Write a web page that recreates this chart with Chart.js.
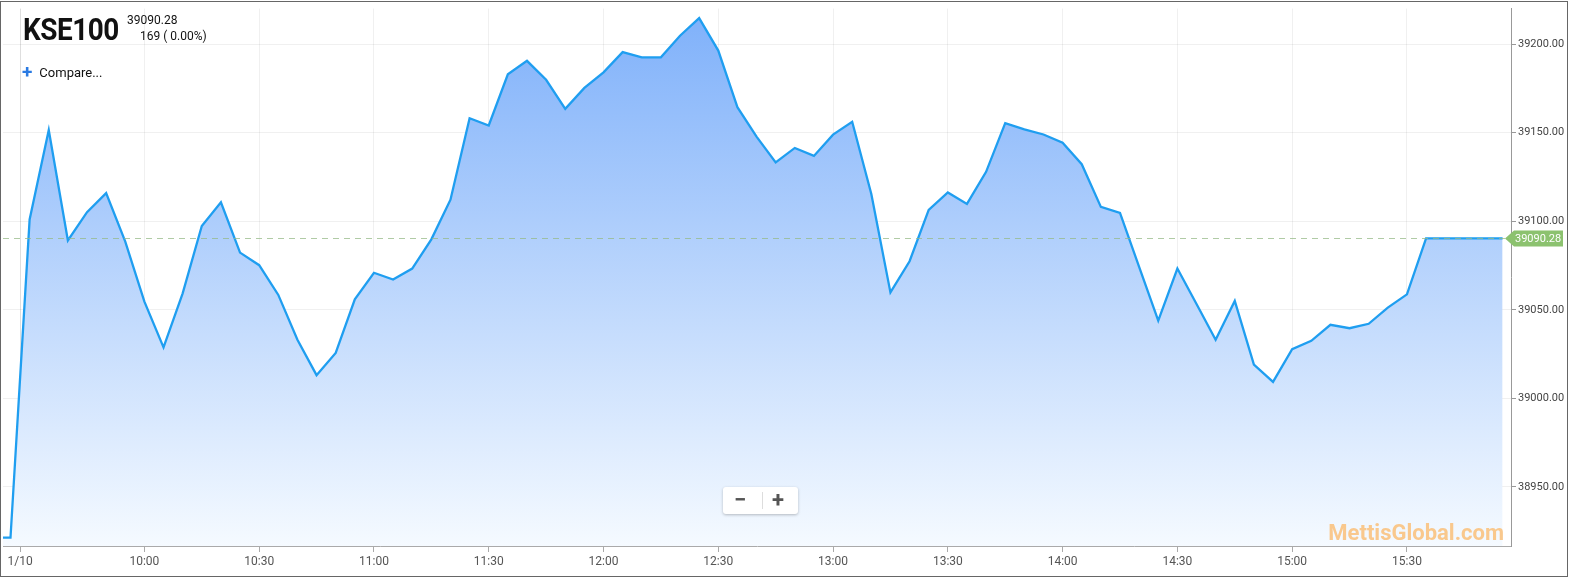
<!DOCTYPE html>
<html>
<head>
<meta charset="utf-8">
<script src="https://cdn.jsdelivr.net/npm/chart.js@4/dist/chart.umd.min.js"></script>
<style>
  html, body { margin:0; padding:0; background:#fff; }
  #wrap { position:relative; width:1570px; height:579px; overflow:hidden; font-family:Roboto, "Noto Sans", sans-serif; }
  canvas { position:absolute; left:0; top:0; }
  .ov { position:absolute; white-space:nowrap; color:#111; }
  #title { left:23px; top:12px; font-size:31px; font-weight:700; transform:scaleX(0.9); transform-origin:left top; letter-spacing:-0.5px; line-height:36px; }
  #price { left:127px; top:13px; font-size:12px; line-height:14px; }
  #chg { left:140px; top:29px; font-size:12px; line-height:14px; }
  #cmp { left:22px; top:63px; font-size:13px; line-height:16px; }
  #cmp b { color:#2a7ae2; font-size:19px; font-weight:700; margin-right:7px; position:relative; top:1px; }
  #zoom { left:723px; top:487px; width:75px; height:27px; background:#fff; border-radius:3px; box-shadow:0 1px 3px rgba(0,0,0,0.25); }
  #zoom span { position:absolute; top:0; font-size:22px; line-height:26px; color:#555; font-weight:700; }
  #zoom i { position:absolute; left:39px; top:5px; width:1px; height:17px; background:#ddd; }
  #wm { right:66px; top:518px; font-size:22px; font-weight:700; color:#f9c88d; line-height:30px; }
</style>
</head>
<body>
<div id="wrap">
  <canvas id="c" width="1570" height="579"></canvas>
  <div class="ov" id="title">KSE100</div>
  <div class="ov" id="price">39090.28</div>
  <div class="ov" id="chg">169 ( 0.00%)</div>
  <div class="ov" id="cmp"><b>+</b>Compare...</div>
  <div class="ov" id="zoom"><span style="left:11px">−</span><i></i><span style="left:49px">+</span></div>
  <div class="ov" id="wm">MettisGlobal.com</div>
</div>
<script>
const times = ['9:20','9:25','9:30','9:35','9:40','9:45','9:50','9:55',
  '10:00','10:05','10:10','10:15','10:20','10:25','10:30','10:35','10:40','10:45','10:50','10:55',
  '11:00','11:05','11:10','11:15','11:20','11:25','11:30','11:35','11:40','11:45','11:50','11:55',
  '12:00','12:05','12:10','12:15','12:20','12:25','12:30','12:35','12:40','12:45','12:50','12:55',
  '13:00','13:05','13:10','13:15','13:20','13:25','13:30','13:35','13:40','13:45','13:50','13:55',
  '14:00','14:05','14:10','14:15','14:20','14:25','14:30','14:35','14:40','14:45','14:50','14:55',
  '15:00','15:05','15:10','15:15','15:20','15:25','15:30','15:35','15:40','15:45','15:50','15:55'];
const values = [38921.28,38921.28,39101.0,39151.5,39089.2,39105.1,39115.9,39088.5,
  39054.6,39028.8,39059.3,39097.3,39110.7,39082.3,39075.2,39058.4,39033.1,39013.1,39025.6,39055.9,
  39070.9,39067.1,39073.3,39089.8,39112.2,39158.2,39154.1,39183.0,39190.6,39179.9,39163.5,39175.3,
  39184.1,39195.5,39192.6,39192.6,39204.8,39214.7,39196.4,39164.4,39147.8,39133.2,39141.4,39136.9,
  39148.9,39156.2,39115.4,39059.8,39077.4,39106.4,39116.3,39109.8,39127.9,39155.4,39151.9,39149.0,
  39144.4,39132.2,39108.1,39104.7,39074.2,39043.9,39073.3,39053.3,39033.1,39055.0,39019.1,39009.3,
  39027.8,39032.5,39041.5,39039.6,39042.1,39051.2,39058.7,39090.28,39090.28,39090.28,39090.28,39090.28];
const lastPrice = 39090.28;
const xTickTimes = ['9:27.5','10:00','10:30','11:00','11:30','12:00','12:30','13:00','13:30','14:00','14:30','15:00','15:30'];
const xTickLabels = ['1/10','10:00','10:30','11:00','11:30','12:00','12:30','13:00','13:30','14:00','14:30','15:00','15:30'];
const yTicks = [38950,39000,39050,39100,39150,39200];

function toMin(s){ const [h,m]=s.split(':'); return (+h)*60 + parseFloat(m); }
const points = times.map((t,i)=>({x:toMin(t), y:values[i]}));
const xTickMin = xTickTimes.map(toMin);

const overlay = {
  id:'overlay',
  afterDatasetsDraw(chart){
    const {ctx, chartArea:a, scales:{y}} = chart;
    const py = Math.round(y.getPixelForValue(lastPrice)) + 0.5;
    ctx.save();
    ctx.strokeStyle = 'rgba(150,185,135,0.75)';
    ctx.lineWidth = 1;
    ctx.setLineDash([6,5]);
    ctx.beginPath(); ctx.moveTo(a.left, py); ctx.lineTo(a.right, py); ctx.stroke();
    ctx.restore();
  },
  afterDraw(chart){
    const {ctx, chartArea:a, scales:{y}} = chart;
    const py = y.getPixelForValue(lastPrice);
    ctx.save();
    ctx.fillStyle = '#8cc26f';
    ctx.beginPath();
    ctx.moveTo(a.right - 6, py);
    ctx.lineTo(a.right + 3, py - 8);
    ctx.lineTo(1563, py - 8);
    ctx.lineTo(1563, py + 8);
    ctx.lineTo(a.right + 3, py + 8);
    ctx.closePath(); ctx.fill();
    ctx.fillStyle = '#fff';
    ctx.font = '11px Roboto';
    ctx.textBaseline = 'middle';
    ctx.fillText(lastPrice.toFixed(2), 1515, py + 0.5);
    ctx.strokeStyle = '#666';
    ctx.lineWidth = 1;
    ctx.strokeRect(0.5, 1.5, 1567, 575);
    ctx.restore();
  }
};

new Chart(document.getElementById('c'), {
  type:'line',
  data:{ datasets:[{
    data: points,
    borderColor:'#1f9ef0',
    borderWidth:2.3,
    pointRadius:0,
    tension:0,
    fill:'start',
    backgroundColor(ctx){
      const a = ctx.chart.chartArea;
      if(!a) return 'rgba(150,195,250,0.6)';
      const g = ctx.chart.ctx.createLinearGradient(0, a.top, 0, a.bottom);
      g.addColorStop(0, 'rgb(126,176,250)');
      g.addColorStop(1, 'rgb(245,250,255)');
      return g;
    }
  }]},
  options:{
    responsive:false, animation:false,
    layout:{ padding:{ left:3, top:5, right:0, bottom:0 } },
    plugins:{ legend:{display:false}, tooltip:{enabled:false} },
    scales:{
      x:{
        type:'linear', min:563.04, max:957.2,
        afterBuildTicks(s){ s.ticks = xTickMin.map(v=>({value:v})); },
        afterFit(s){ s.height = 33; },
        ticks:{ autoSkip:false, maxRotation:0, padding:3, color:'#555', font:{family:'Roboto', size:12},
          callback(v, i){ return xTickLabels[i]; } },
        grid:{ color(c){ return c.index===0 ? 'rgba(0,0,0,0.13)' : 'rgba(0,0,0,0.06)'; }, tickColor:'#aaa', tickLength:6 },
        border:{ display:true, color:'#aaa' }
      },
      y:{
        position:'right', min:38916.6, max:39220.1,
        afterBuildTicks(s){ s.ticks = yTicks.map(v=>({value:v})); },
        afterFit(s){ s.width = 59; },
        ticks:{ padding:2, color:'#444', font:{family:'Roboto', size:11},
          callback(v){ return Number(v).toFixed(2); } },
        grid:{ color:'rgba(0,0,0,0.06)', tickColor:'#999', tickLength:5 },
        border:{ display:true, color:'#999' }
      }
    }
  },
  plugins:[overlay]
});
</script>
</body>
</html>
